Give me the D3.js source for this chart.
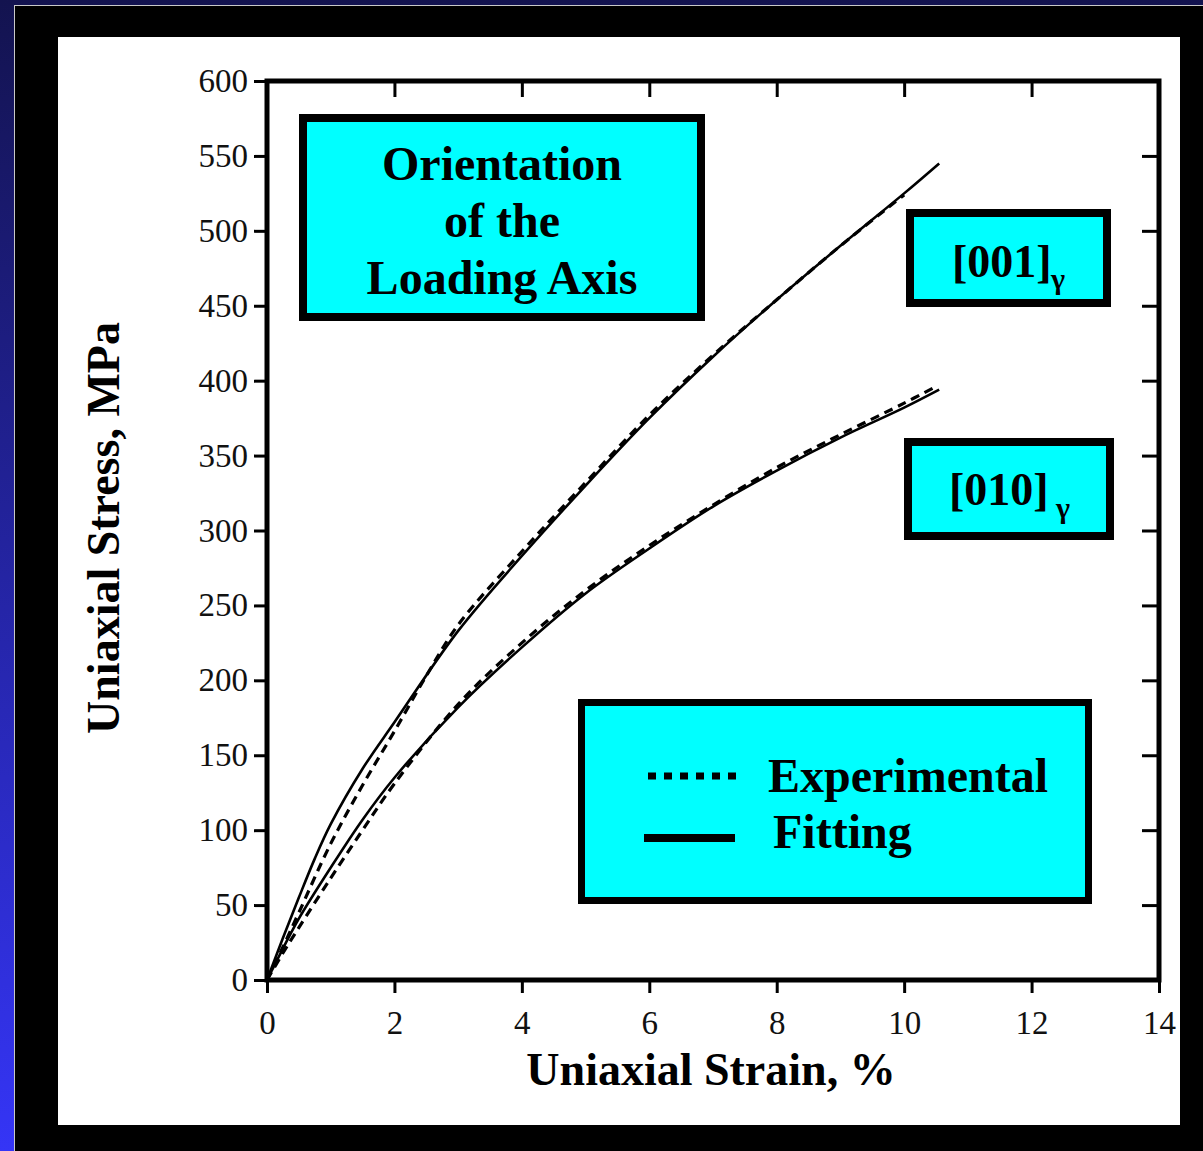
<!DOCTYPE html>
<html>
<head>
<meta charset="utf-8">
<script src="https://cdn.jsdelivr.net/npm/d3@7"></script>
<style>
body{margin:0;background:#000;}
svg{display:block;}
.tick text{font-family:"Liberation Serif","Times New Roman",serif;font-size:33px;fill:#111;}
.tick line{stroke:#000;stroke-width:3;}
.lbl{font-family:"Liberation Serif","Times New Roman",serif;font-weight:bold;fill:#000;}
</style>
</head>
<body>
<svg id="chart" width="1203" height="1151"></svg>
<script>
//values (strain in %, stress in MPa)
const strainFit001 = [0, 0.25, 0.5, 0.75, 1, 1.5, 2, 3, 4, 5, 6, 7, 8, 9, 10, 10.55];
const stressFit001 = [0, 28, 55, 81, 104, 141, 172, 233, 283, 330, 375, 416, 454, 490, 525, 545];
const strainExp001 = [0, 0.25, 0.5, 1, 1.5, 2, 2.5, 3, 4, 5, 6, 7, 8, 9, 10];
const stressExp001 = [0, 22, 45, 91, 130, 166, 203, 237, 286, 332, 377, 417, 454, 490, 524];
const strainFit010 = [0, 0.25, 0.5, 1, 1.5, 2, 3, 4, 5, 6, 7, 8, 9, 10, 10.55];
const stressFit010 = [0, 21, 41, 75, 107, 135, 182, 222, 258, 288, 316, 340, 362, 382, 394];
const strainExp010 = [0, 0.25, 0.5, 1, 1.5, 2, 3, 4, 5, 6, 7, 8, 9, 10, 10.45];
const stressExp010 = [0, 18, 35, 68, 100, 131, 184, 225, 260, 290, 317, 342, 364, 385, 395];
//tick labels
const xTicks = [0, 2, 4, 6, 8, 10, 12, 14];
const yTicks = [0, 50, 100, 150, 200, 250, 300, 350, 400, 450, 500, 550, 600];

const svg = d3.select("#chart");

//background: blue gradient, black frame, white sheet
const defs = svg.append("defs");
const grad = defs.append("linearGradient").attr("id","bg").attr("x1",0).attr("y1",0).attr("x2",0).attr("y2",1);
grad.append("stop").attr("offset","0%").attr("stop-color","#13134f");
grad.append("stop").attr("offset","100%").attr("stop-color","#3535f6");
svg.append("rect").attr("width",1203).attr("height",1151).attr("fill","url(#bg)");
svg.append("rect").attr("x",14.5).attr("y",5.5).attr("width",1200).attr("height",1160)
   .attr("fill","#000").attr("stroke","#c8c8c8").attr("stroke-width",1);
svg.append("rect").attr("x",58).attr("y",37).attr("width",1122).attr("height",1088).attr("fill","#fff");

//scales
const x = d3.scaleLinear().domain([0,14]).range([267,1159]);
const y = d3.scaleLinear().domain([0,600]).range([980,81]);

//axes: outer ticks left/bottom, inner ticks top/right
svg.append("g").attr("transform","translate("+x(0)+",0)")
   .call(d3.axisLeft(y).tickValues(yTicks).tickSize(13).tickPadding(6))
   .call(g => g.select(".domain").remove());
svg.append("g").attr("transform","translate(0,"+y(0)+")")
   .call(d3.axisBottom(x).tickValues(xTicks).tickSize(13).tickPadding(18))
   .call(g => g.select(".domain").remove());
svg.append("g").attr("transform","translate(0,"+y(600)+")")
   .call(d3.axisTop(x).tickValues(xTicks).tickSize(-16).tickFormat(""))
   .call(g => g.select(".domain").remove());
svg.append("g").attr("transform","translate("+x(14)+",0)")
   .call(d3.axisRight(y).tickValues(yTicks).tickSize(-17).tickFormat(""))
   .call(g => g.select(".domain").remove());

//plot frame
svg.append("rect").attr("x",x(0)).attr("y",y(600))
   .attr("width",x(14)-x(0)).attr("height",y(0)-y(600))
   .attr("fill","none").attr("stroke","#000").attr("stroke-width",5);

//curves
const line = d3.line().x(d => x(d[0])).y(d => y(d[1])).curve(d3.curveCatmullRom.alpha(0.5));
const curves = [
  {xs: strainExp001, ys: stressExp001, exp: true},
  {xs: strainExp010, ys: stressExp010, exp: true},
  {xs: strainFit001, ys: stressFit001, exp: false},
  {xs: strainFit010, ys: stressFit010, exp: false}
];
svg.append("g").selectAll("path")
   .data(curves)
   .enter()
   .append("path")
   .attr("d", c => line(c.xs.map((v,i) => [v, c.ys[i]])))
   .attr("fill","none")
   .attr("stroke","#000")
   .attr("stroke-width", c => c.exp ? 3.2 : 2.6)
   .attr("stroke-dasharray", c => c.exp ? "9,6" : null);

//axis titles
svg.append("text").attr("class","lbl").attr("font-size","46px")
   .attr("x",711).attr("y",1085).attr("text-anchor","middle")
   .text("Uniaxial Strain, %");
svg.append("text").attr("class","lbl").attr("font-size","46px")
   .attr("text-anchor","middle")
   .attr("transform","translate(119,528) rotate(-90)")
   .text("Uniaxial Stress, MPa");

//cyan boxes
function box(x0, y0, x1, y1, sw){
  svg.append("rect").attr("x",x0+sw/2).attr("y",y0+sw/2)
     .attr("width",x1-x0-sw).attr("height",y1-y0-sw)
     .attr("fill","#00ffff").attr("stroke","#000").attr("stroke-width",sw);
}
box(299,114,705,321,8);
["Orientation","of the","Loading Axis"].forEach((t,i) => {
  svg.append("text").attr("class","lbl").attr("font-size","48px")
     .attr("x",502).attr("y",180+i*57).attr("text-anchor","middle").text(t);
});

box(906,209,1111,307,8);
svg.append("text").attr("class","lbl").attr("font-size","46px").attr("x",952).attr("y",277).text("[001]");
svg.append("text").attr("class","lbl").attr("font-size","30px").attr("x",1051).attr("y",289).text("γ");

box(904,438,1114,540,8);
svg.append("text").attr("class","lbl").attr("font-size","46px").attr("x",949).attr("y",505).text("[010]");
svg.append("text").attr("class","lbl").attr("font-size","30px").attr("x",1056).attr("y",518).text("γ");

//legend
box(578,699,1092,904,7);
svg.append("line").attr("x1",648).attr("x2",737).attr("y1",776).attr("y2",776)
   .attr("stroke","#000").attr("stroke-width",7).attr("stroke-dasharray","8,8");
svg.append("line").attr("x1",644).attr("x2",735).attr("y1",838).attr("y2",838)
   .attr("stroke","#000").attr("stroke-width",8);
svg.append("text").attr("class","lbl").attr("font-size","48px").attr("x",768).attr("y",792).text("Experimental");
svg.append("text").attr("class","lbl").attr("font-size","48px").attr("x",773).attr("y",848).text("Fitting");
</script>
</body>
</html>
